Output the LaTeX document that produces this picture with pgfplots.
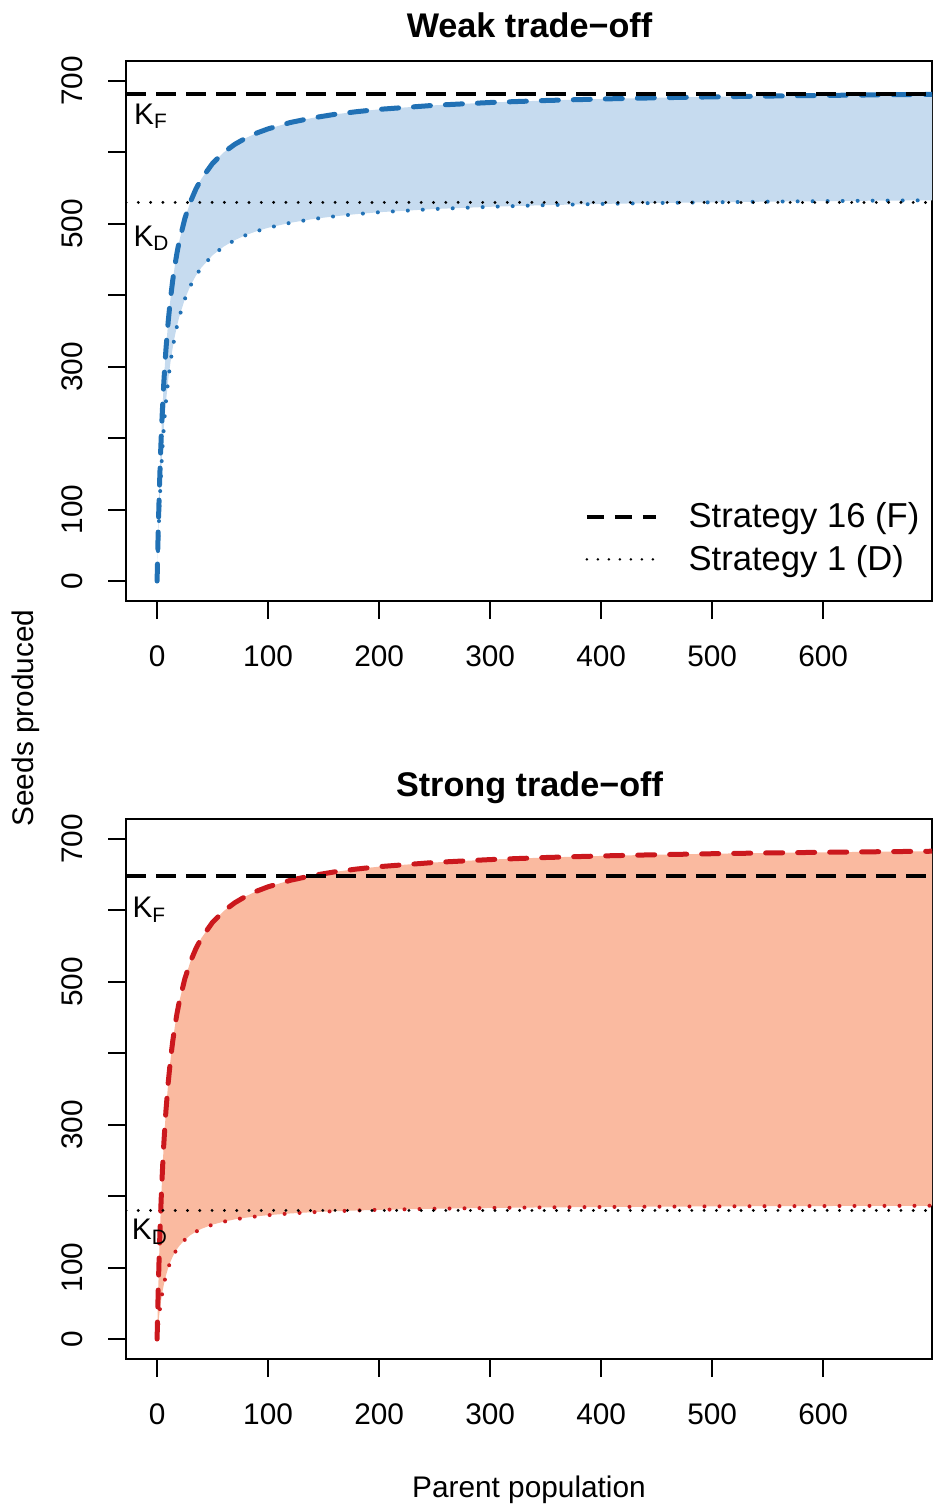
\documentclass[border=0pt]{standalone}
\usepackage{fontspec}
\setmainfont{Liberation Sans}
\usepackage{pgfplots}
\usepackage{pgfplotstable}
\pgfplotsset{compat=1.18}
\usepgfplotslibrary{fillbetween}

\definecolor{bline}{HTML}{2171B5}
\definecolor{bfill}{HTML}{C6DBEF}
\definecolor{rline}{HTML}{CB181D}
\definecolor{rfill}{HTML}{FABAA0}

% x, F and D curves, weak (top) and strong (bottom) trade-off
\pgfplotstableread{
x    Ftop   Dtop   Fbot   Dbot
0    0      0      0      0
1    69.0   52.9   67.2   18.9
2    125.5  96.4   122.5  34.4
3    172.5  132.8  168.8  47.3
4    212.3  163.6  208.1  58.2
5    246.4  190.1  242.0  67.5
6    276.0  213.2  271.4  75.6
7    301.9  233.3  297.2  82.7
8    324.7  251.2  320.0  88.9
10   363.2  281.3  358.5  99.5
12   394.3  305.7  389.9  108.0
14   420.0  325.9  415.8  115.0
16   441.6  342.9  437.6  121.0
18   460.0  357.4  456.3  126.0
20   475.9  369.9  472.4  130.3
25   507.4  394.7  504.4  139.0
30   530.8  413.3  528.2  145.4
35   548.9  427.6  546.7  150.3
40   563.3  439.0  561.5  154.3
50   584.7  456.1  583.5  160.2
60   600.0  468.2  599.1  164.3
70   611.4  477.3  610.8  167.5
80   620.2  484.3  619.9  169.9
90   627.3  489.9  627.2  171.8
100  633.0  494.5  633.1  173.4
120  641.9  501.5  642.2  175.8
140  648.3  506.7  648.9  177.6
160  653.3  510.6  654.0  178.9
180  657.1  513.7  658.0  180.0
200  660.3  516.3  661.3  180.9
250  666.0  520.8  667.2  182.4
300  669.9  523.9  671.2  183.5
350  672.7  526.2  674.1  184.3
400  674.8  527.9  676.3  184.8
450  676.5  529.2  678.0  185.3
500  677.8  530.2  679.4  185.7
550  678.9  531.1  680.5  186.0
600  679.8  531.8  681.4  186.2
650  680.6  532.5  682.2  186.4
698  681.2  533.0  682.9  186.6
}\curves

\newcommand{\basefont}{\fontsize{14.9bp}{17bp}\selectfont}
\newcommand{\legfont}{\fontsize{17.3bp}{20bp}\selectfont}
\newcommand{\titlefont}{\fontsize{17.1bp}{20bp}\selectfont\bfseries}

\pgfplotsset{
  panel/.style={
    scale only axis, width=403bp, height=270bp,
    xmin=-28, xmax=698, ymin=-28, ymax=728,
    xtick={0,100,...,600}, ytick={0,100,...,700},
    yticklabels={0,100,,300,,500,,700},
    xtick pos=left, ytick pos=left,
    tick align=outside, major tick length=9bp,
    axis line style={line width=1bp, black},
    tick style={line width=1bp, black},
    tick label style={font=\basefont},
    /pgf/number format/assume math mode=true,
    xticklabel style={anchor=north, inner sep=0pt},
    yticklabel style={rotate=90, anchor=south, inner sep=0pt},
    xticklabel shift=13bp, yticklabel shift=12.5bp,
    legend cell align=left,
  },
  kF/.style={black, line width=1.8bp, dash pattern=on 10bp off 5bp},
  kD/.style={black, line width=1.6bp, line cap=round, dash pattern=on 0bp off 6.15bp},
  cF/.style={line width=2.5bp, line cap=round, dash pattern=on 8.5bp off 7.5bp},
  cD/.style={line width=2bp, line cap=round, dash pattern=on 0bp off 7.5bp},
}

\begin{document}
\begin{tikzpicture}

% ---------- top panel ----------
\begin{axis}[panel, at={(63bp,-30.5bp)}, anchor=north west,
  legend style={draw=none, fill=none, at={(axis cs:385.5,109.5)}, anchor=north west,
    inner sep=0pt, outer sep=0pt, row sep=7.2bp,
    nodes={inner sep=0pt, font=\legfont},
    /tikz/every odd column/.append style={column sep=15.5bp}},
  legend image code/.code={\draw[#1] (0bp,0bp) -- (34.5bp,0bp);},
]
\addlegendimage{black, line width=1.8bp, dash pattern=on 8.5bp off 5.5bp}
\addlegendentry{Strategy 16 (F)}
\addlegendimage{black, line width=1.4bp, line cap=round, dash pattern=on 0bp off 5.5bp}
\addlegendentry{Strategy 1 (D)}
\addplot[draw=none, name path=tF] table[x=x, y=Ftop] {\curves};
\addplot[draw=none, name path=tD] table[x=x, y=Dtop] {\curves};
\addplot[bfill] fill between[of=tF and tD];
\addplot[bline, cF] table[x=x, y=Ftop] {\curves};
\addplot[bline, cD] table[x=x, y=Dtop] {\curves};
\addplot[kF] coordinates {(-28,682) (698,682)};
\addplot[kD] coordinates {(-28,530) (698,530)};
\node[anchor=base west, inner sep=0pt, font=\basefont] at (axis cs:-21,639.4) {K\textsubscript{F}};
\node[anchor=base west, inner sep=0pt, font=\basefont] at (axis cs:-21.5,468.7) {K\textsubscript{D}};
\end{axis}

% ---------- bottom panel ----------
\begin{axis}[panel, at={(63bp,-409.5bp)}, anchor=north west]
\addplot[draw=none, name path=bF] table[x=x, y=Fbot] {\curves};
\addplot[draw=none, name path=bD] table[x=x, y=Dbot] {\curves};
\addplot[rfill] fill between[of=bF and bD];
\addplot[rline, cF] table[x=x, y=Fbot] {\curves};
\addplot[rline, cD] table[x=x, y=Dbot] {\curves};
\addplot[kF] coordinates {(-28,648) (698,648)};
\addplot[kD] coordinates {(-28,180) (698,180)};
\node[anchor=base west, inner sep=0pt, font=\basefont] at (axis cs:-22.5,590) {K\textsubscript{F}};
\node[anchor=base west, inner sep=0pt, font=\basefont] at (axis cs:-23,139) {K\textsubscript{D}};
\end{axis}

% titles and axis labels
\node[anchor=base, inner sep=0pt, font=\titlefont] at (264.75bp,-18.5bp) {Weak trade−off};
\node[anchor=base, inner sep=0pt, font=\titlefont] at (264.75bp,-398bp) {Strong trade−off};
\node[anchor=base, inner sep=0pt, font=\basefont] at (264.5bp,-748.5bp) {Parent population};
\node[anchor=base, inner sep=0pt, rotate=90, font=\basefont] at (16.75bp,-359bp) {Seeds produced};

\pgfresetboundingbox
\useasboundingbox (0,0) rectangle (466.5bp,-752bp);
\end{tikzpicture}
\end{document}
